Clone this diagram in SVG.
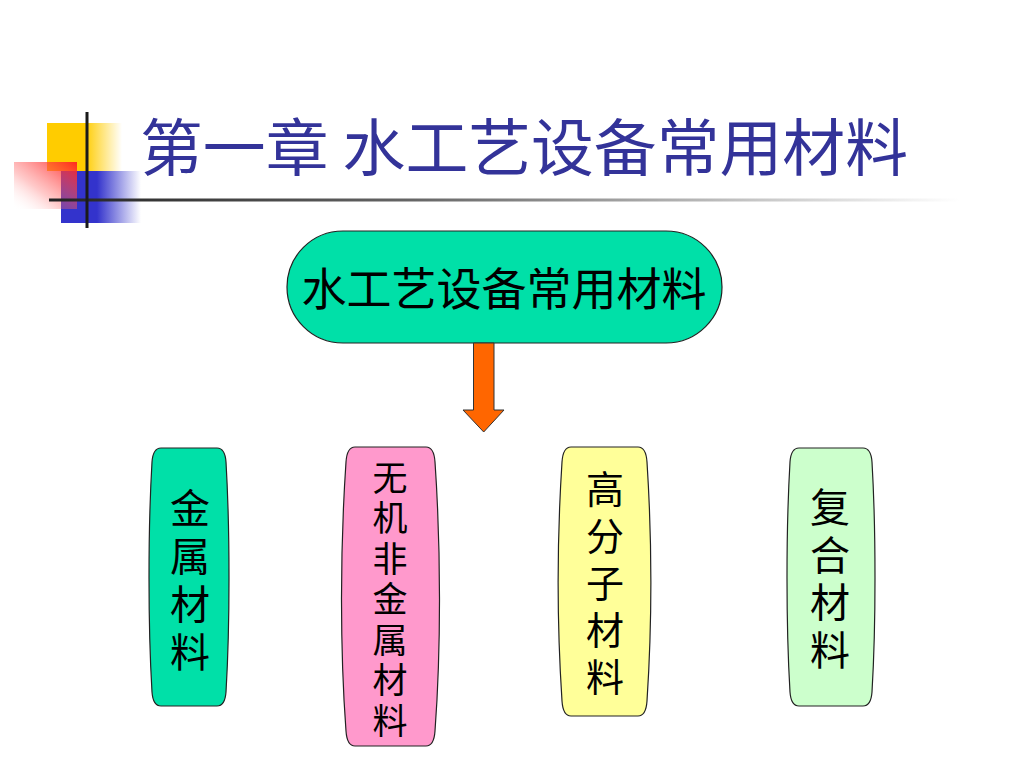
<svg xmlns="http://www.w3.org/2000/svg" width="1024" height="768" viewBox="0 0 1024 768">
<defs>
<linearGradient id="gYellow" x1="0" y1="0" x2="1" y2="0">
<stop offset="0" stop-color="#FFCC00"/><stop offset="0.5" stop-color="#FFCC00"/><stop offset="1" stop-color="#FFCC00" stop-opacity="0"/>
</linearGradient>
<linearGradient id="gBlue" x1="0" y1="0" x2="1" y2="0">
<stop offset="0" stop-color="#3333CC"/><stop offset="0.45" stop-color="#3333CC"/><stop offset="1" stop-color="#3333CC" stop-opacity="0"/>
</linearGradient>
<linearGradient id="gRed" x1="1" y1="0" x2="0" y2="1">
<stop offset="0" stop-color="#FF2020" stop-opacity="0.95"/><stop offset="0.6" stop-color="#FF6666" stop-opacity="0.35"/><stop offset="1" stop-color="#FFFFFF" stop-opacity="0"/>
</linearGradient>
<linearGradient id="gLine" x1="0" y1="0" x2="1" y2="0">
<stop offset="0" stop-color="#222222"/><stop offset="0.4" stop-color="#666666"/><stop offset="1" stop-color="#FFFFFF"/>
</linearGradient>
<style>
.t{font-family:"Noto Sans CJK SC","Liberation Sans",sans-serif;fill:#000;text-anchor:middle}
.v{font-family:"Noto Sans CJK SC","Liberation Sans",sans-serif;fill:#000;writing-mode:vertical-rl;text-orientation:upright}
.box{stroke:#222;stroke-width:1.2}
</style>
</defs>
<rect width="1024" height="768" fill="#FFFFFF"/>
<g id="decoration">
<rect x="47" y="123" width="75" height="48" fill="url(#gYellow)"/>
<rect x="61" y="171" width="80" height="52" fill="url(#gBlue)"/>
<rect x="14" y="162" width="63" height="47" fill="url(#gRed)"/>
<rect x="49" y="198.5" width="910" height="3" fill="url(#gLine)"/>
<rect x="85.5" y="112" width="3" height="116" fill="#1a1a1a"/>
</g>
<text id="title" x="140" y="171" font-family="'Noto Sans CJK SC','Liberation Sans',sans-serif" font-size="62" fill="#333399" textLength="768" lengthAdjust="spacingAndGlyphs">第一章 水工艺设备常用材料</text>
<g id="root">
<rect x="287" y="231" width="435" height="112" rx="56" ry="56" fill="#00E0A8" stroke="#222" stroke-width="1.2"/>
<text class="t" x="504" y="306" font-size="45">水工艺设备常用材料</text>
</g>
<g id="connectors">
<path d="M473.5,343 L494,343 L494,410 L504,410 L483.7,432 L463,410 L473.5,410 Z" fill="#FF6600" stroke="#333" stroke-width="1"/>
</g>
<g id="metal">
<path class="box" fill="#00E0A8" d="M161,448 L217,448 Q225,448 226,462 C230,530 230,625 226,692 Q225,706 217,706 L161,706 Q153,706 152,692 C148,625 148,530 152,462 Q153,448 161,448 Z"/>
<text class="v" font-size="40" x="190" y="488" letter-spacing="8">金属材料</text>
</g>
<g id="inorganic">
<path class="box" fill="#FF99CC" d="M355,447 L426,447 Q434,447 435,462 C441,550 441,650 435,731 Q434,746 426,746 L355,746 Q347,746 346,731 C340,650 340,550 346,462 Q347,447 355,447 Z"/>
<text class="v" font-size="35" x="390" y="460" letter-spacing="5.5">无机非金属材料</text>
</g>
<g id="polymer">
<path class="box" fill="#FFFF99" d="M571,447 L638,447 Q646,447 647,462 C652,540 652,625 647,701 Q646,716 638,716 L571,716 Q563,716 562,701 C557,625 557,540 562,462 Q563,447 571,447 Z"/>
<text class="v" font-size="38" x="605" y="470" letter-spacing="9">高分子材料</text>
</g>
<g id="composite">
<path class="box" fill="#CCFFCC" d="M799,448 L863,448 Q871,448 872,462 C876,530 876,625 872,692 Q871,706 863,706 L799,706 Q791,706 790,692 C786,625 786,530 790,462 Q791,448 799,448 Z"/>
<text class="v" font-size="40" x="830" y="487" letter-spacing="7.5">复合材料</text>
</g>
</svg>
